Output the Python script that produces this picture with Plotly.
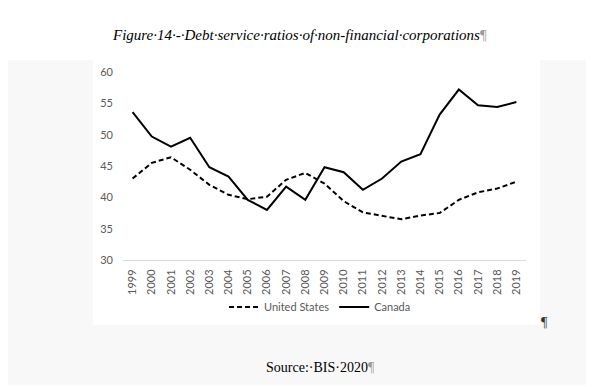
import plotly.graph_objects as go

years = [str(y) for y in range(1999, 2020)]
united_states = [43.0, 45.5, 46.4, 44.4, 42.0, 40.4, 39.7, 40.1, 42.8, 43.9, 42.2,
                 39.4, 37.6, 37.0, 36.5, 37.1, 37.5, 39.6, 40.8, 41.4, 42.5]
canada = [53.6, 49.7, 48.1, 49.5, 44.8, 43.3, 39.6, 38.0, 41.7, 39.6, 44.8,
          44.0, 41.2, 43.0, 45.7, 46.9, 53.2, 57.2, 54.7, 54.4, 55.2]
y_ticks = [30, 35, 40, 45, 50, 55, 60]

OFF = 8  # default page body margin
W, H = 602 - OFF, 387 - OFF
L, R, T, B = 123 - OFF, 76, 72 - OFF, 127
pw, ph = W - L - R, H - T - B

def px(x):
    return (x - OFF - L) / pw

def py(y):
    return (H - B - (y - OFF)) / ph

fig = go.Figure()
fig.add_trace(go.Scatter(x=years, y=united_states, mode="lines", name="United States",
                         line=dict(color="black", width=2, dash="5px,3px")))
fig.add_trace(go.Scatter(x=years, y=canada, mode="lines", name="Canada",
                         line=dict(color="black", width=2)))

tick_font = dict(family="Lato, Carlito, Liberation Sans, sans-serif", size=11, color="#595959")

fig.update_layout(
    width=W, height=H,
    margin=dict(l=L, r=R, t=T, b=B, pad=0),
    paper_bgcolor="white",
    plot_bgcolor="rgba(0,0,0,0)",
    showlegend=True,
    legend=dict(orientation="h", x=px(320), xanchor="center", y=py(307), yanchor="middle",
                font=tick_font, bgcolor="rgba(0,0,0,0)", itemwidth=30, tracegroupgap=0),
    xaxis=dict(type="category", range=[-0.5, 20.5], tickangle=-90, tickfont=tick_font,
               showgrid=False, showline=True, linecolor="#d9d9d9", linewidth=1,
               ticks="", zeroline=False, ticklabelstandoff=4),
    yaxis=dict(range=[30, 60], tickvals=y_ticks, tickfont=tick_font, showgrid=False,
               showline=False, zeroline=False, ticks="", ticklabelstandoff=9),
)

# document-like textured page background around the chart box
bg = "#f8f8f8"
shapes = [
    dict(type="rect", xref="paper", yref="paper", x0=px(3), x1=px(93), y0=py(385), y1=py(60),
         fillcolor=bg, line=dict(width=0), layer="below"),
    dict(type="rect", xref="paper", yref="paper", x0=px(540), x1=px(586), y0=py(385), y1=py(60),
         fillcolor=bg, line=dict(width=0), layer="below"),
    dict(type="rect", xref="paper", yref="paper", x0=px(93), x1=px(540), y0=py(385), y1=py(325),
         fillcolor=bg, line=dict(width=0), layer="below"),
]
fig.update_layout(shapes=shapes)

serif = "Liberation Serif, Times New Roman, serif"
fig.add_annotation(xref="paper", yref="paper", x=px(299), y=py(35), xanchor="center", yanchor="middle",
                   text="<i>Figure·14·-·Debt·service·ratios·of·non-financial·corporations</i><span style='color:#999'>¶</span>",
                   showarrow=False, font=dict(family=serif, size=15, color="black"))
fig.add_annotation(xref="paper", yref="paper", x=px(320), y=py(367), xanchor="center", yanchor="middle",
                   text="Source:·BIS·2020<span style='color:#999'>¶</span>",
                   showarrow=False, font=dict(family=serif, size=14, color="black"))
fig.add_annotation(xref="paper", yref="paper", x=px(544), y=py(322), xanchor="center", yanchor="middle",
                   text="¶", showarrow=False, font=dict(family=serif, size=14, color="#333"))

fig.write_html("out.html")
